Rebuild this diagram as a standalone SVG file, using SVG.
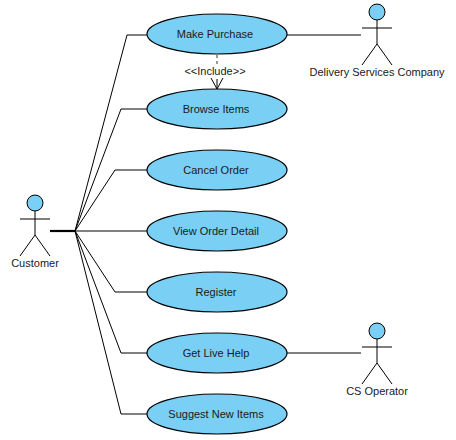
<svg xmlns="http://www.w3.org/2000/svg" width="456" height="440" viewBox="0 0 456 440">
<style>
text{font-family:"Liberation Sans",Arial,sans-serif;font-size:11px;fill:#1a1a1a;text-anchor:middle}
.uc{fill:#7acff5;stroke:#000;stroke-width:1.2}
.h{fill:#7acff5;stroke:#000;stroke-width:1}
.a{fill:none;stroke:#000;stroke-width:1}
.c{fill:none;stroke:#000;stroke-width:1}
.t{fill:none;stroke:#000;stroke-width:2.2}
.d{fill:none;stroke:#000;stroke-width:.8;stroke-dasharray:3 3}
</style>
<defs>
<g id="fig"><circle class="h" cx="0" cy="0" r="8"/><path class="a" d="M0 8V32M-15 16H15M0 32L-15 53M0 32L15 53"/></g>
</defs>
<rect width="456" height="440" fill="#fff"/>
<g id="connectors">
<path class="c" d="M75 231L127 35H147"/>
<path class="c" d="M75 231L121 109H147"/>
<path class="c" d="M75 231L115 170H147"/>
<path class="c" d="M75 231H147"/>
<path class="c" d="M75 231L115 292H147"/>
<path class="c" d="M75 231L121 353H147"/>
<path class="c" d="M75 231L121 414H147"/>
<path class="t" d="M50 231H75"/>
<path class="c" d="M287 35H361"/>
<path class="c" d="M287 353H361"/>
<path class="d" d="M217 55V64"/>
<path class="c" d="M217 79V89M211 78L217 89L223 78"/>
</g>
<g id="actor-customer"><use href="#fig" x="35" y="203"/><text x="35" y="267">Customer</text></g>
<g id="actor-delivery"><use href="#fig" x="377" y="12"/><text x="377" y="76">Delivery Services Company</text></g>
<g id="actor-cs"><use href="#fig" x="377" y="331"/><text x="377" y="395">CS Operator</text></g>
<g id="uc-make-purchase"><ellipse class="uc" cx="217" cy="34" rx="70" ry="20"/><text x="215" y="38">Make Purchase</text></g>
<g id="uc-browse"><ellipse class="uc" cx="217" cy="109" rx="70" ry="20"/><text x="216" y="113">Browse Items</text></g>
<g id="uc-cancel"><ellipse class="uc" cx="217" cy="170" rx="70" ry="20"/><text x="216" y="174">Cancel Order</text></g>
<g id="uc-view"><ellipse class="uc" cx="217" cy="231" rx="70" ry="20"/><text x="216" y="235">View Order Detail</text></g>
<g id="uc-register"><ellipse class="uc" cx="217" cy="292" rx="70" ry="20"/><text x="216" y="296">Register</text></g>
<g id="uc-help"><ellipse class="uc" cx="217" cy="353" rx="70" ry="20"/><text x="216" y="357">Get Live Help</text></g>
<g id="uc-suggest"><ellipse class="uc" cx="217" cy="414" rx="70" ry="20"/><text x="216" y="418">Suggest New Items</text></g>
<text id="label-include" x="215" y="75">&lt;&lt;Include&gt;&gt;</text>
</svg>
